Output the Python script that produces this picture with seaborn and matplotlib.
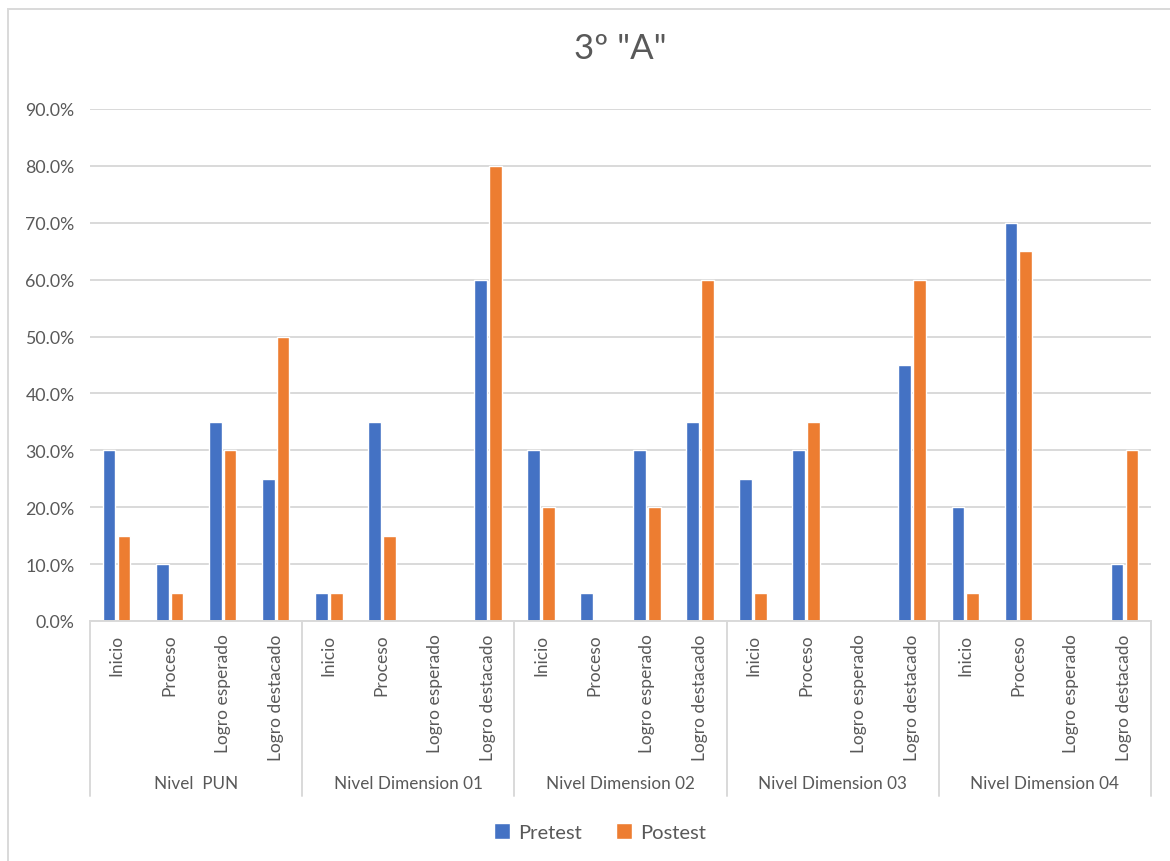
import pandas as pd
import matplotlib.pyplot as plt
import seaborn as sns
from matplotlib.ticker import PercentFormatter, MultipleLocator
from matplotlib.patches import Rectangle

# chart data
groups = ["Nivel  PUN", "Nivel Dimension 01", "Nivel Dimension 02",
          "Nivel Dimension 03", "Nivel Dimension 04"]
levels = ["Inicio", "Proceso", "Logro esperado", "Logro destacado"]
pretest = [0.30, 0.10, 0.35, 0.25,
           0.05, 0.35, 0.00, 0.60,
           0.30, 0.05, 0.30, 0.35,
           0.25, 0.30, 0.00, 0.45,
           0.20, 0.70, 0.00, 0.10]
postest = [0.15, 0.05, 0.30, 0.50,
           0.05, 0.15, 0.00, 0.80,
           0.20, 0.00, 0.20, 0.60,
           0.05, 0.35, 0.00, 0.60,
           0.05, 0.65, 0.00, 0.30]
series = ["Pretest", "Postest"]
colors = ["#4472C4", "#ED7D31"]

# long table for seaborn
keys = [f"{g}|{l}" for g in groups for l in levels]
df = pd.DataFrame({
    "cat": keys * 2,
    "valor": pretest + postest,
    "serie": [series[0]] * len(keys) + [series[1]] * len(keys),
})

sns.set_style("white")
plt.rcParams["font.family"] = ["Lato", "DejaVu Sans"]
text_color = "#595959"
grid_color = "#D9D9D9"

fig = plt.figure(figsize=(11.7, 8.62), dpi=100)
ax = fig.add_axes([90 / 1170, 1 - 622 / 862, (1151 - 90) / 1170, (622 - 110) / 862])

sns.barplot(data=df, x="cat", y="valor", hue="serie", order=keys,
            hue_order=series, palette=colors, width=0.56, gap=0.14,
            saturation=1, ax=ax)

ax.set_ylim(0, 0.9)
ax.set_xlim(-0.5, len(keys) - 0.5)
ax.yaxis.set_major_locator(MultipleLocator(0.1))
ax.yaxis.set_major_formatter(PercentFormatter(xmax=1, decimals=1))
ax.grid(axis="y", color=grid_color, linewidth=1.4)
ax.set_axisbelow(True)
for s in ["left", "right", "top"]:
    ax.spines[s].set_visible(False)
ax.spines["bottom"].set_color(grid_color)
ax.spines["bottom"].set_linewidth(1.4)
ax.set_xlabel("")
ax.set_ylabel("")

ax.set_xticks(range(len(keys)))
ax.set_xticklabels([k.split("|")[1] for k in keys], rotation=90,
                   va="top", ha="center")
ax.tick_params(axis="x", length=0, pad=9, labelsize=12.5, labelcolor=text_color)
ax.tick_params(axis="y", length=0, pad=11, labelsize=12.8, labelcolor=text_color)

# group labels and separators under the category axis
trans = ax.get_xaxis_transform()
n = len(levels)
for i, g in enumerate(groups):
    ax.text(i * n + (n - 1) / 2, -(784 - 622) / 512, g, transform=trans,
            ha="center", va="center", fontsize=12.3, color=text_color)
for i in range(len(groups) + 1):
    ax.plot([i * n - 0.5, i * n - 0.5], [0, -(797 - 622) / 512], transform=trans,
            color=grid_color, linewidth=1.4, clip_on=False)

ax.set_title('3º "A"', fontsize=25, color=text_color, y=1 + (110 - 57) / 512,
             va="center")

sns.move_legend(ax, "center", bbox_to_anchor=(0.513, 1 - 833 / 862),
                bbox_transform=fig.transFigure, ncol=2, frameon=False,
                title=None, handlelength=0.8, handleheight=0.8,
                columnspacing=1.7, handletextpad=0.4, fontsize=14.5)
for t in ax.get_legend().get_texts():
    t.set_color(text_color)

# chart border
fig.patches.append(Rectangle((8 / 1170, -0.05), 1.2, 1 - 10 / 862 + 0.05,
                             transform=fig.transFigure, fill=False,
                             edgecolor=grid_color, linewidth=1.4))

fig.savefig("out.png", dpi=100)
